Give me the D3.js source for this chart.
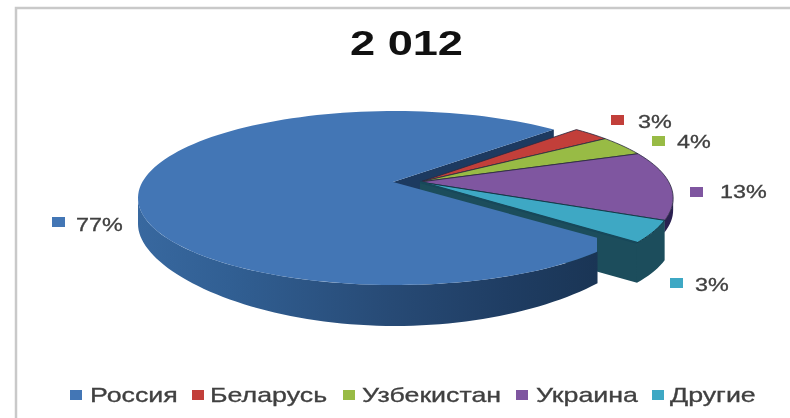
<!DOCTYPE html>
<html><head><meta charset="utf-8">
<script src="https://cdn.jsdelivr.net/npm/d3@7"></script>
<style>html,body{margin:0;padding:0;background:#fff}svg{display:block;filter:blur(.6px)}text{font-family:"Liberation Sans",Arial,sans-serif}</style>
</head><body><svg id="c" width="790" height="418"></svg>
<script>
const title = "2 012";
const categories = ["Россия","Беларусь","Узбекистан","Украина","Другие"];
const values = [77,3,4,13,3];
const colors = ["#4376b5","#c23f3a","#98bb45","#7f56a0","#3ea8c4"];
const wallColors = ["#1f3d63","#7a2422","#5a7028","#2a2050","#1c4d5c"];
const markerX = [52,611,652,690,670];
const markerY = [217,115,136,187,278];
const labelX = [76,638,677,720,695];
const labelY = [231,128,148,198,291];
const legendMarkerX = [70,192,343,516,652];
const legendTextX = [90,210,362,536,670];

const svg = d3.select("#c");
const defs = svg.append("defs");
const wg = defs.append("linearGradient").attr("id","wall").attr("x1",0).attr("x2",1).attr("y1",0).attr("y2",0);
[[0,"#38689f"],[.2,"#315f93"],[.55,"#274a75"],[.8,"#1f3d63"],[1,"#1a3555"]].forEach(s=>
  wg.append("stop").attr("offset",s[0]).attr("stop-color",s[1]));
defs.append("clipPath").attr("id","rclip").append("rect").attr("x",0).attr("y",0).attr("width",597).attr("height",418);

// frame
svg.append("path").attr("d","M16,418V8H790").attr("fill","none").attr("stroke","#c9c9c9").attr("stroke-width",2.5);

function label(x,y,s,size,fill,weight,sx){
  svg.append("text").attr("transform",`translate(${x},${y}) scale(${sx},1)`)
    .attr("font-size",size).attr("fill",fill).attr("stroke",fill).attr("stroke-width",weight==="bold"?0:.3)
    .attr("font-weight",weight||"normal").text(s);
}
label(350,55,title,35,"#111","bold",1.29);

// pie geometry
const rad = Math.PI/180;
const pie = d3.pie().sort(null).startAngle(122*rad).endAngle(482*rad)(values);
const warp = d3.scaleLinear().domain([122,399,410,424.5,471,482]).range([121,398,407,419.5,464.6,481]);
const A=257,B=87,DEPTH=40,CY=198,AY=182;
const offX = i => i===0 ? 0 : 27;
const CX = i => 395 + (i===0 ? 0 : 25);
const rim = (i,deg,dy=0)=>[CX(i)+A*Math.sin(deg*rad)*(i===0?1:0.985), CY-B*Math.cos(deg*rad)+dy];
const apex = (i,dy=0)=>[393+offX(i),AY+dy];
function arc(i,a0,a1,dyf){
  const n=Math.max(2,Math.ceil(Math.abs(a1-a0)/2)), pts=[];
  d3.range(n+1).forEach(k=>{const t=a0+(a1-a0)*k/n; pts.push(rim(i,t,dyf?dyf(t):0));});
  return pts;
}
const line=d3.line();
const ang = pie.map(d=>({a0:warp(d.startAngle/rad),a1:warp(d.endAngle/rad)}));
const poly=(pts,fill,stroke,sw,clip)=>{
  const p=svg.append("path").attr("d",line(pts)+"Z").attr("fill",fill)
  .attr("stroke",stroke||"none").attr("stroke-width",sw||0).attr("stroke-linejoin","round");
  if(clip)p.attr("clip-path","url(#rclip)");
  return p;
};

// Russia start cut face
const r0 = ang[0];
const rs = rim(0,r0.a1);
poly([apex(0),rs,[rs[0],rs[1]+DEPTH],apex(0,DEPTH)],"#1d3a60");

// exploded slices: cut faces, walls, tops
const depthOf = i => i===3 ? 12 : DEPTH;
[1,2,3,4].forEach(i=>{
  const {a0,a1}=ang[i], d=depthOf(i);
  const s=rim(i,a1), ap=apex(i);
  poly([ap,s,[s[0],s[1]+d],apex(i,d)],wallColors[i]);
  if(a1>450){
    const w0=Math.max(a0,450);
    poly([...arc(i,w0,a1),...arc(i,a1,w0,()=>d)],wallColors[i]);
  }
});
[1,2,3,4].forEach(i=>{
  const {a0,a1}=ang[i];
  poly([apex(i),...arc(i,a0,a1)],colors[i],i===4?"#123a48":"#2a2a40",i===4?1:.8);
});
// Russia wall and top
const wallDepth = t => 26+15*Math.cos(t*rad)**2;
poly([...arc(0,128,270),...arc(0,270,128,wallDepth)],"url(#wall)");
poly([apex(0),...arc(0,r0.a0,r0.a1)],colors[0],null,0,true);

// dark seam under the teal edge
const tEnd=rim(4,ang[4].a1);
svg.append("path").attr("d",line([apex(4),tEnd])).attr("stroke","#17485a").attr("stroke-width",2.2).attr("fill","none");

// data labels
values.forEach((v,i)=>{
  svg.append("rect").attr("x",markerX[i]).attr("y",markerY[i]).attr("width",13).attr("height",10).attr("fill",colors[i]);
  label(labelX[i],labelY[i],v+"%",18,"#404040","normal",1.3);
});
// legend
categories.forEach((c,i)=>{
  svg.append("rect").attr("x",legendMarkerX[i]).attr("y",390).attr("width",12).attr("height",10).attr("fill",colors[i]);
  label(legendTextX[i],402,c,20,"#404040","normal",1.34);
});
</script></body></html>
